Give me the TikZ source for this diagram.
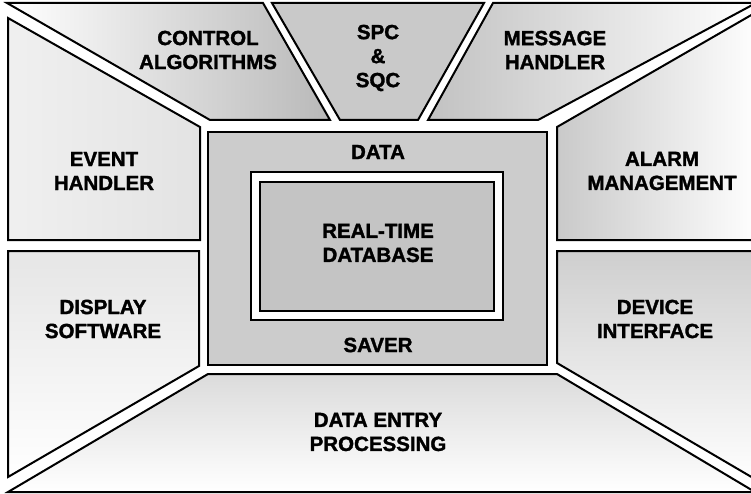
\documentclass[tikz,border=0pt]{standalone}
\usepackage{fontspec}
\setmainfont{Liberation Sans}
\newfontfamily\heavyfont{Liberation Sans Bold}[FakeBold=1.6]
\begin{document}
\begin{tikzpicture}[x=1pt,y=-1pt,
  region/.style={draw=black,line width=2pt,line join=miter},
  lbl/.style={font=\heavyfont\fontsize{20.5}{24}\selectfont,align=center,text=black,inner sep=0pt}]
\useasboundingbox (0,0) rectangle (751,494);
\clip (0,0) rectangle (751,494);
\fill[white] (0,0) rectangle (751,494);
% top row
\path[region,left color=white,right color=gray!55] (7,3) -- (263,3) -- (330,120) -- (210,120) -- cycle;
\path[region,fill=gray!42] (272,3) -- (484,3) -- (418,120) -- (340,120) -- cycle;
\path[region,left color=gray!48,right color=white] (493,3) -- (756,3) -- (538,120) -- (428,120) -- cycle;
% middle row
\path[region,left color=gray!12,right color=gray!22] (8,18) -- (200,127) -- (200,240) -- (8,240) -- cycle;
\path[left color=gray!42,right color=white] (760,10) -- (557,127) -- (557,240) -- (760,240) -- cycle;
\draw[region] (760,10) -- (557,127) -- (557,240) -- (760,240);
% bottom row
\path[region,top color=gray!20,bottom color=white] (8,251) -- (199,251) -- (199,366) -- (8,477) -- cycle;
\path[top color=gray!38,bottom color=white] (760,251) -- (557,251) -- (557,363) -- (760,482) -- cycle;
\draw[region] (760,251) -- (557,251) -- (557,363) -- (760,482);
\path[region,top color=gray!28,bottom color=white] (208,374) -- (557,374) -- (755,492) -- (8,492) -- cycle;
% centre
\path[region,fill=gray!40] (208,132) rectangle (547,365);
\path[draw=black,line width=2.5pt,fill=white] (251,172) rectangle (503,320);
\path[draw=black,line width=2pt,fill=gray!46] (260,182) rectangle (494,311);
% labels
\node[lbl] (ca) at (208,50) {CONTROL\\ALGORITHMS};
\node[lbl] (spc) at (378,58) {SPC\\\&\\SQC};
\node[lbl] (mh) at (555,50) {MESSAGE\\HANDLER};
\node[lbl] (eh) at (104,171) {EVENT\\HANDLER};
\node[lbl] (data) at (378,152) {DATA};
\node[lbl] (rtdb) at (378,243) {REAL-TIME\\DATABASE};
\node[lbl] (saver) at (378,345) {SAVER};
\node[lbl] (am) at (662,171) {ALARM\\MANAGEMENT};
\node[lbl] (ds) at (103,319) {DISPLAY\\SOFTWARE};
\node[lbl] (di) at (655,319) {DEVICE\\INTERFACE};
\node[lbl] (de) at (378,432) {DATA ENTRY\\PROCESSING};
\end{tikzpicture}
\end{document}
